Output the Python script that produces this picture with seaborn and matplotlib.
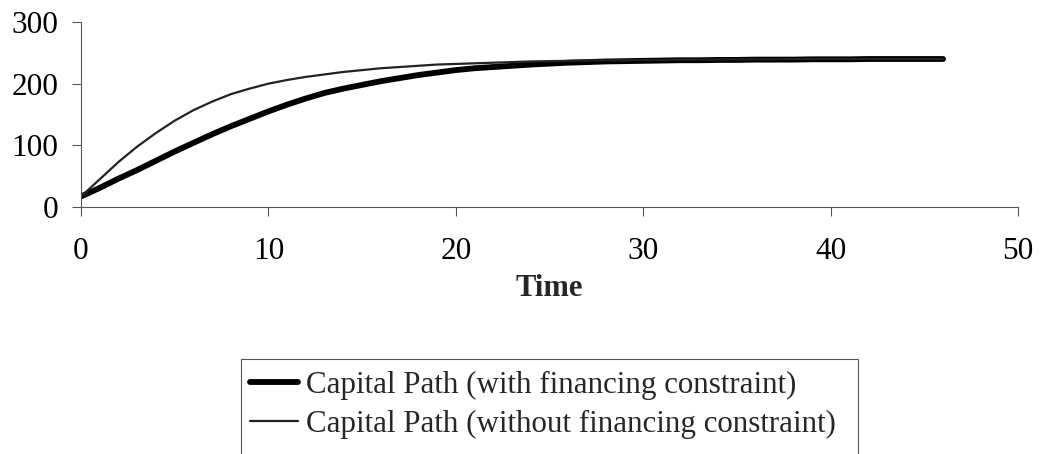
import matplotlib
matplotlib.use("Agg")
import matplotlib.pyplot as plt
from matplotlib.patches import Rectangle
import seaborn as sns
import pandas as pd

# ---- data ----
time = list(range(0, 47))
with_constraint = [17, 31, 46, 60, 75, 90, 104, 118, 131, 143,
                   155, 166, 176, 185, 192, 198, 204, 209, 214, 218,
                   222, 225, 227, 229, 231, 232.5, 234, 235, 236, 236.5,
                   237, 237.5, 238, 238, 238.5, 238.5, 239, 239, 239, 239.5,
                   239.5, 239.5, 240, 240, 240, 240, 240]
without_constraint = [17, 45, 73, 98, 120, 140, 157, 171, 183, 192,
                      200, 206, 211, 215, 219, 222, 225, 227, 229, 231,
                      232, 233, 234, 235, 236, 236.5, 237, 237.5, 238, 238,
                      238.5, 238.5, 239, 239, 239, 239.5, 239.5, 239.5, 240, 240,
                      240, 240, 240, 240, 240, 240, 240]
label_with = "Capital Path (with financing constraint)"
label_without = "Capital Path (without financing constraint)"
x_ticks = [0, 10, 20, 30, 40, 50]
y_ticks = [0, 100, 200, 300]
x_label = "Time"

df = pd.DataFrame({"Time": time * 2,
                   "Capital": with_constraint + without_constraint,
                   "Series": [label_with] * len(time) + [label_without] * len(time)})

sns.set_style("white")
plt.rcParams["font.family"] = ["Liberation Serif", "DejaVu Serif"]

fig = plt.figure(figsize=(10.4, 4.54), dpi=100)
ax = fig.add_axes([81 / 1040, 1 - 207 / 454, (1018 - 81) / 1040, (207 - 22) / 454])

sns.lineplot(data=df[df.Series == label_with], x="Time", y="Capital",
             color="black", linewidth=4.2, ax=ax, label=label_with)
sns.lineplot(data=df[df.Series == label_without], x="Time", y="Capital",
             color="#222222", linewidth=1.6, ax=ax, label=label_without)

ax.set_xlim(0, 50)
ax.set_ylim(0, 300)
ax.set_xticks(x_ticks)
ax.set_yticks(y_ticks)
ax.tick_params(axis="both", labelsize=22.5, direction="out", length=6.5, width=0.8,
               color="#555555", left=True, bottom=True, labelcolor="black")
ax.tick_params(axis="x", pad=15)
ax.tick_params(axis="y", pad=10)
for s in ["top", "right"]:
    ax.spines[s].set_visible(False)
for s in ["left", "bottom"]:
    ax.spines[s].set_color("#555555")
    ax.spines[s].set_linewidth(0.8)
ax.set_ylabel("")
ax.set_xlabel(x_label, fontsize=22, fontweight="bold", labelpad=6)
ax.grid(False)

leg = ax.legend(loc="upper left", bbox_to_anchor=(250 / 1040, 1 - 371 / 454),
                bbox_transform=fig.transFigure, frameon=False,
                fontsize=22.3, handlelength=1.55, handletextpad=0.25,
                borderpad=0.0, labelspacing=0.32, borderaxespad=0)
fig.patches.append(Rectangle((241 / 1040, -0.05), (858 - 241) / 1040,
                             (1 - 359 / 454) + 0.05, transform=fig.transFigure,
                             fill=False, edgecolor="#555555", linewidth=0.8))

fig.savefig("out.png", dpi=100)
